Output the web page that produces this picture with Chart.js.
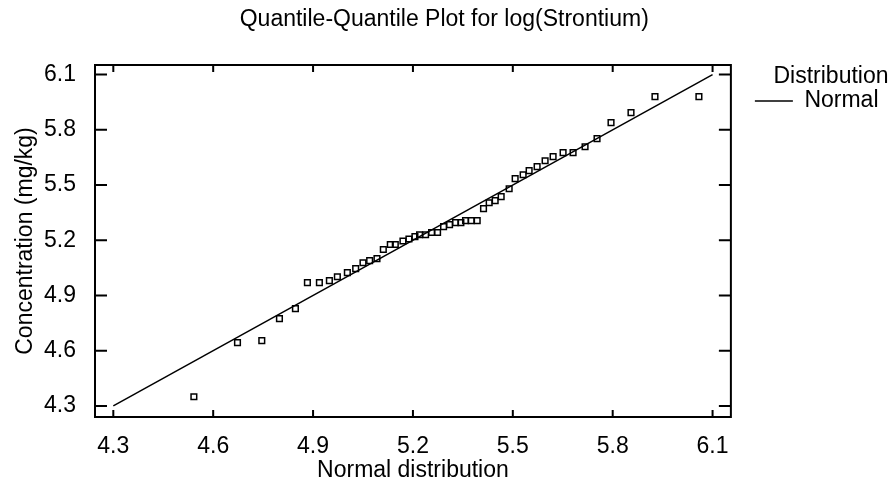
<!DOCTYPE html>
<html>
<head>
<meta charset="utf-8">
<script src="https://cdn.jsdelivr.net/npm/chart.js@4.4.1/dist/chart.umd.min.js"></script>
<style>
  html, body { margin: 0; padding: 0; background: #fff; }
  #wrap { width: 895px; height: 489px; }
</style>
</head>
<body>
<div id="wrap"><canvas id="qq"></canvas></div>
<script>
// theoretical normal quantiles (x) vs sorted log(Strontium) (y)
const normalQuantiles = [
  4.542, 4.673, 4.746, 4.799, 4.847, 4.883, 4.919, 4.949, 4.973, 5.003,
  5.028, 5.050, 5.070, 5.092, 5.111, 5.132, 5.147, 5.170, 5.188, 5.206,
  5.220, 5.238, 5.256, 5.274, 5.292, 5.310, 5.328, 5.344, 5.358, 5.375,
  5.393, 5.412, 5.429, 5.447, 5.465, 5.489, 5.507, 5.531, 5.549, 5.573,
  5.597, 5.621, 5.651, 5.681, 5.717, 5.753, 5.795, 5.855, 5.927, 6.059
];
const logStrontium = [
  4.350, 4.644, 4.655, 4.774, 4.829, 4.970, 4.970, 4.981, 5.002, 5.024,
  5.046, 5.078, 5.089, 5.100, 5.150, 5.177, 5.177, 5.196, 5.207, 5.220,
  5.230, 5.230, 5.242, 5.242, 5.274, 5.285, 5.296, 5.296, 5.307, 5.307,
  5.307, 5.372, 5.404, 5.415, 5.437, 5.480, 5.535, 5.556, 5.578, 5.600,
  5.632, 5.654, 5.676, 5.676, 5.708, 5.752, 5.839, 5.893, 5.980, 5.980
];
// fitted normal reference line
const refLineX = [4.3, 6.1];
const refLineY = [4.3, 6.1];

const xTickValues = [4.3, 4.6, 4.9, 5.2, 5.5, 5.8, 6.1];
const yTickValues = [4.3, 4.6, 4.9, 5.2, 5.5, 5.8, 6.1];

const FONT = "Arial, 'Liberation Sans', sans-serif";
const fontSize = 23;

// box frame with inward ticks on all four sides
const frameTicks = {
  id: 'frameTicks',
  afterDatasetsDraw(chart) {
    const { ctx, chartArea: a, scales } = chart;
    ctx.save();
    ctx.strokeStyle = '#000';
    ctx.lineWidth = 2;
    ctx.strokeRect(a.left, a.top, a.right - a.left, a.bottom - a.top);
    ctx.beginPath();
    xTickValues.forEach(v => {
      const x = scales.x.getPixelForValue(v);
      ctx.moveTo(x, a.bottom); ctx.lineTo(x, a.bottom - 7);
      ctx.moveTo(x, a.top); ctx.lineTo(x, a.top + 7);
    });
    yTickValues.forEach(v => {
      const y = scales.y.getPixelForValue(v);
      ctx.moveTo(a.left, y); ctx.lineTo(a.left + 12, y);
      ctx.moveTo(a.right, y); ctx.lineTo(a.right - 12, y);
    });
    ctx.stroke();
    ctx.restore();
  }
};

const points = normalQuantiles.map((x, i) => ({ x: x, y: logStrontium[i] }));
const refLine = refLineX.map((x, i) => ({ x: x, y: refLineY[i] }));

new Chart(document.getElementById('qq').getContext('2d'), {
  type: 'scatter',
  data: {
    datasets: [
      {
        label: 'log(Strontium)',
        data: points,
        pointStyle: 'rect',
        pointRadius: 4,
        pointHoverRadius: 4,
        borderWidth: 1.5,
        borderColor: '#000',
        backgroundColor: 'rgba(0,0,0,0)'
      },
      {
        label: 'Normal',
        data: refLine,
        showLine: true,
        pointRadius: 0,
        pointStyle: 'line',
        borderWidth: 1.5,
        borderColor: '#000',
        backgroundColor: '#000'
      }
    ]
  },
  options: {
    responsive: true,
    maintainAspectRatio: false,
    animation: false,
    devicePixelRatio: 1,
    layout: { padding: { left: 0, right: 6.5, top: 0, bottom: 0 } },
    plugins: {
      title: {
        display: true,
        text: 'Quantile-Quantile Plot for log(Strontium)',
        color: '#000',
        font: { family: FONT, size: fontSize, weight: 'normal' },
        padding: { top: 6, bottom: 31.4 }
      },
      legend: {
        position: 'right',
        align: 'start',
        fullSize: false,
        title: {
          display: true,
          text: 'Distribution',
          color: '#000',
          position: 'end',
          font: { family: FONT, size: fontSize },
          padding: { top: 0, bottom: -27 }
        },
        labels: {
          filter: item => item.datasetIndex === 1,
          usePointStyle: true,
          pointStyleWidth: 38,
          color: '#000',
          font: { family: FONT, size: fontSize },
          padding: 24
        }
      },
      tooltip: { enabled: false }
    },
    scales: {
      x: {
        type: 'linear',
        min: 4.245,
        max: 6.155,
        afterBuildTicks: s => { s.ticks = xTickValues.map(v => ({ value: v })); },
        afterFit: s => { s.height = 72; },
        grid: { display: false },
        border: { display: false },
        ticks: {
          color: '#000',
          font: { family: FONT, size: fontSize },
          padding: 8,
          maxRotation: 0,
          callback: v => v.toFixed(1)
        },
        title: {
          display: true,
          text: 'Normal distribution',
          color: '#000',
          font: { family: FONT, size: fontSize },
          padding: { top: 0, bottom: 5 }
        }
      },
      y: {
        type: 'linear',
        min: 4.24,
        max: 6.152,
        afterBuildTicks: s => { s.ticks = yTickValues.map(v => ({ value: v })); },
        afterFit: s => { s.width = 95; },
        grid: { display: false },
        border: { display: false },
        ticks: {
          color: '#000',
          font: { family: FONT, size: fontSize },
          padding: 11,
          callback: v => v.toFixed(1)
        },
        title: {
          display: true,
          text: 'Concentration (mg/kg)',
          color: '#000',
          font: { family: FONT, size: fontSize },
          padding: { top: 12, bottom: 0 }
        }
      }
    }
  },
  plugins: [frameTicks]
});
</script>
</body>
</html>
